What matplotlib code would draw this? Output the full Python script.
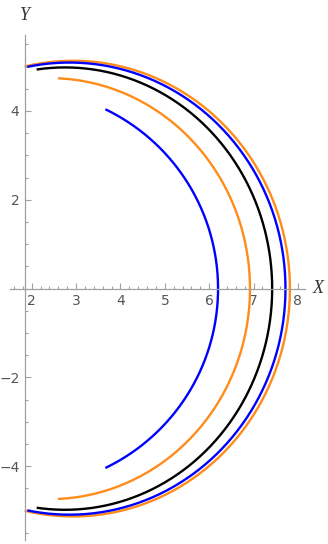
import numpy as np
import matplotlib.pyplot as plt
from matplotlib.ticker import MultipleLocator

# arcs: centre x, semi-axis along x, semi-axis along y, x of the end points
names = ['outer orange', 'outer blue', 'black', 'inner orange', 'inner blue']
center_x = [2.93, 2.85, 2.75, 2.40, 1.72]
semi_x = [4.89, 4.87, 4.67, 4.52, 4.48]
semi_y = [5.13, 5.09, 4.98, 4.74, 4.48]
end_x = [1.84, 1.90, 2.11, 2.59, 3.66]
colors = ['#ff8c1a', '#0000ff', '#000000', '#ff8c1a', '#0000ff']

x_ticks = [2, 3, 4, 5, 6, 7, 8]
y_ticks = [-4, -2, 2, 4]

fig = plt.figure(figsize=(3.28, 5.44), dpi=100)
ax = fig.add_axes([10 / 328, 4 / 544, 295 / 328, 505 / 544])

for cx, a, b, xe, c in zip(center_x, semi_x, semi_y, end_x, colors):
    t0 = np.arccos((xe - cx) / a)
    t = np.linspace(t0, -t0, 400)
    ax.plot(cx + a * np.cos(t), b * np.sin(t), color=c, lw=1.7,
            solid_capstyle='butt')

ax.set_xlim(1.51, 8.16)
ax.set_ylim(-5.66, 5.71)

axis_grey = '#a0a0a0'
for side in ['top', 'right']:
    ax.spines[side].set_visible(False)
ax.spines['left'].set_position(('data', 1.85))
ax.spines['bottom'].set_position(('data', 0))
for side in ['left', 'bottom']:
    ax.spines[side].set_color(axis_grey)
    ax.spines[side].set_linewidth(0.9)

ax.set_xticks(x_ticks)
ax.set_yticks(y_ticks)
ax.xaxis.set_minor_locator(MultipleLocator(0.2))
ax.yaxis.set_minor_locator(MultipleLocator(0.5))
ax.tick_params(which='both', direction='in', color=axis_grey, width=0.8,
               labelcolor='#555555', labelsize=10)
ax.tick_params(which='major', length=4, pad=4)
ax.tick_params(which='minor', length=2.2)
ax.set_yticklabels(['\u22124', '\u22122', '2', '4'])

ax.text(8.33, 0, 'X', family='Liberation Serif', style='italic',
        fontsize=13, color='#333333', va='center', ha='left')
ax.text(1.85, 5.95, 'Y', family='Liberation Serif', style='italic',
        fontsize=13, color='#333333', va='bottom', ha='center')
ax.patch.set_visible(False)

fig.savefig('out.png', dpi=100)
